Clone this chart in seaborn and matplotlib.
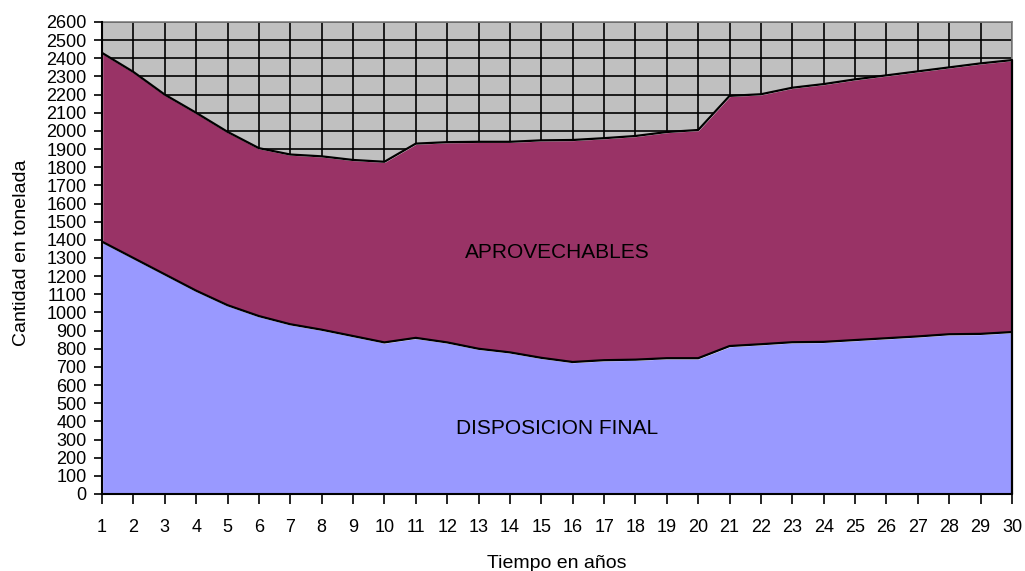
import numpy as np
import pandas as pd
import matplotlib
matplotlib.use("Agg")
import matplotlib.pyplot as plt
import seaborn as sns

# ---- data ----
years = list(range(1, 31))
disposicion_final = [1390, 1300, 1210, 1120, 1040, 980, 935, 905, 870, 835,
                     860, 835, 800, 780, 750, 727, 737, 740, 748, 748,
                     815, 825, 836, 838, 848, 858, 868, 880, 882, 892]
aprovechables = [1040, 1025, 990, 980, 955, 925, 935, 955, 970, 995,
                 1070, 1103, 1140, 1160, 1198, 1223, 1223, 1232, 1246, 1257,
                 1378, 1377, 1402, 1420, 1436, 1448, 1460, 1470, 1490, 1498]
y_ticks = list(range(0, 2700, 100))

df = pd.DataFrame({"year": years,
                   "DISPOSICION FINAL": disposicion_final,
                   "APROVECHABLES": aprovechables})
df["total"] = df["DISPOSICION FINAL"] + df["APROVECHABLES"]

sns.set_style("white")
plt.rcParams["font.family"] = ["Liberation Sans", "DejaVu Sans"]

fig = plt.figure(figsize=(10.25, 5.71), dpi=100)
ax = fig.add_axes([102 / 1025, 1 - 494 / 571, 910 / 1025, 472 / 571])
ax.set_facecolor("#C0C0C0")

ax.stackplot(df["year"], df["DISPOSICION FINAL"], df["APROVECHABLES"],
             colors=["#9999FF", "#993366"], zorder=2)
sns.lineplot(data=df, x="year", y="DISPOSICION FINAL", ax=ax, color="black",
             linewidth=1.6, zorder=3)
sns.lineplot(data=df, x="year", y="total", ax=ax, color="black",
             linewidth=1.6, zorder=3)

ax.set_xlim(1, 30)
ax.set_ylim(0, 2600)
ax.set_xticks(years)
ax.set_yticks(y_ticks)
ax.grid(True, color="black", linewidth=1.2, zorder=0)
ax.set_axisbelow(True)

for s in ["top", "right"]:
    ax.spines[s].set_color("#808080")
    ax.spines[s].set_linewidth(1.2)
for s in ["left", "bottom"]:
    ax.spines[s].set_color("black")
    ax.spines[s].set_linewidth(1.5)
    ax.spines[s].set_zorder(5)
ax.plot([30, 30], [0, df["total"].iloc[-1]], color="black", lw=1.6, zorder=4,
        clip_on=False)

ax.tick_params(axis="x", direction="out", length=7, width=1.2, pad=11,
               labelsize=13, colors="black", bottom=True)
ax.tick_params(axis="y", direction="out", length=6, width=1.2, pad=5,
               labelsize=13, colors="black", left=True)

ax.set_xlabel("")
ax.set_ylabel("")
fig.text(557 / 1025, 1 - 563 / 571, "Tiempo en años", ha="center", va="center",
         fontsize=14, color="black")
fig.text(22 / 1025, 1 - 253 / 571, "Cantidad en tonelada", ha="center",
         va="center", rotation=90, fontsize=14, color="black")

ax.text(15.5, 1330, "APROVECHABLES", ha="center", va="center", fontsize=15,
        color="black", zorder=6)
ax.text(15.5, 360, "DISPOSICION FINAL", ha="center", va="center", fontsize=15,
        color="black", zorder=6)

fig.savefig("out.png", dpi=100)
